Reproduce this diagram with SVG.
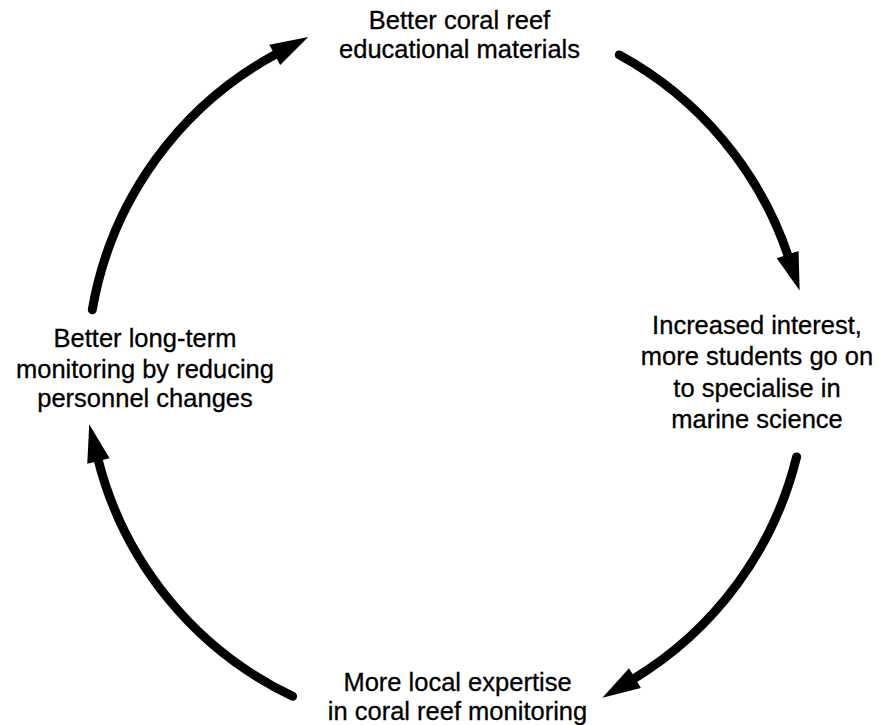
<svg xmlns="http://www.w3.org/2000/svg" width="880" height="725" viewBox="0 0 880 725">
  <defs>
    <style>
      .lbl { font-family: "Liberation Sans", Arial, Helvetica, sans-serif; font-size: 25.5px; fill: #000; stroke: #000; stroke-width: 0.3; text-anchor: middle; }
      .arc { fill: none; stroke: #000; stroke-width: 9; stroke-linecap: round; }
    </style>
    <marker id="head" markerUnits="userSpaceOnUse" markerWidth="46" markerHeight="28" viewBox="-5 -14 46 28" refX="0" refY="0" orient="auto">
      <path d="M-3,-11.5 L35,0 L-3,11.5 Z" fill="#000"/>
    </marker>
  </defs>
  <rect width="880" height="725" fill="#fff"/>
  <g id="connectors">
    <path class="arc" d="M619.3,54.9 A360,360 0 0 1 788.6,257.4" marker-end="url(#head)"/>
    <path class="arc" d="M796.6,456.9 A360,360 0 0 1 632.4,679.6" marker-end="url(#head)"/>
    <path class="arc" d="M292.6,696.2 A360,360 0 0 1 97.7,458.1" marker-end="url(#head)"/>
    <path class="arc" d="M92.3,309.7 A360,360 0 0 1 277.4,53.4" marker-end="url(#head)"/>
  </g>
  <g id="node-top">
    <text class="lbl" x="459.5" y="29">Better coral reef</text>
    <text class="lbl" x="459.5" y="58">educational materials</text>
  </g>
  <g id="node-right">
    <text class="lbl" x="757" y="334">Increased interest,</text>
    <text class="lbl" x="757" y="365">more students go on</text>
    <text class="lbl" x="757" y="397">to specialise in</text>
    <text class="lbl" x="757" y="428">marine science</text>
  </g>
  <g id="node-bottom">
    <text class="lbl" x="457.5" y="691">More local expertise</text>
    <text class="lbl" x="457.5" y="720">in coral reef monitoring</text>
  </g>
  <g id="node-left">
    <text class="lbl" x="145" y="347">Better long-term</text>
    <text class="lbl" x="145" y="378">monitoring by reducing</text>
    <text class="lbl" x="145" y="407">personnel changes</text>
  </g>
</svg>
